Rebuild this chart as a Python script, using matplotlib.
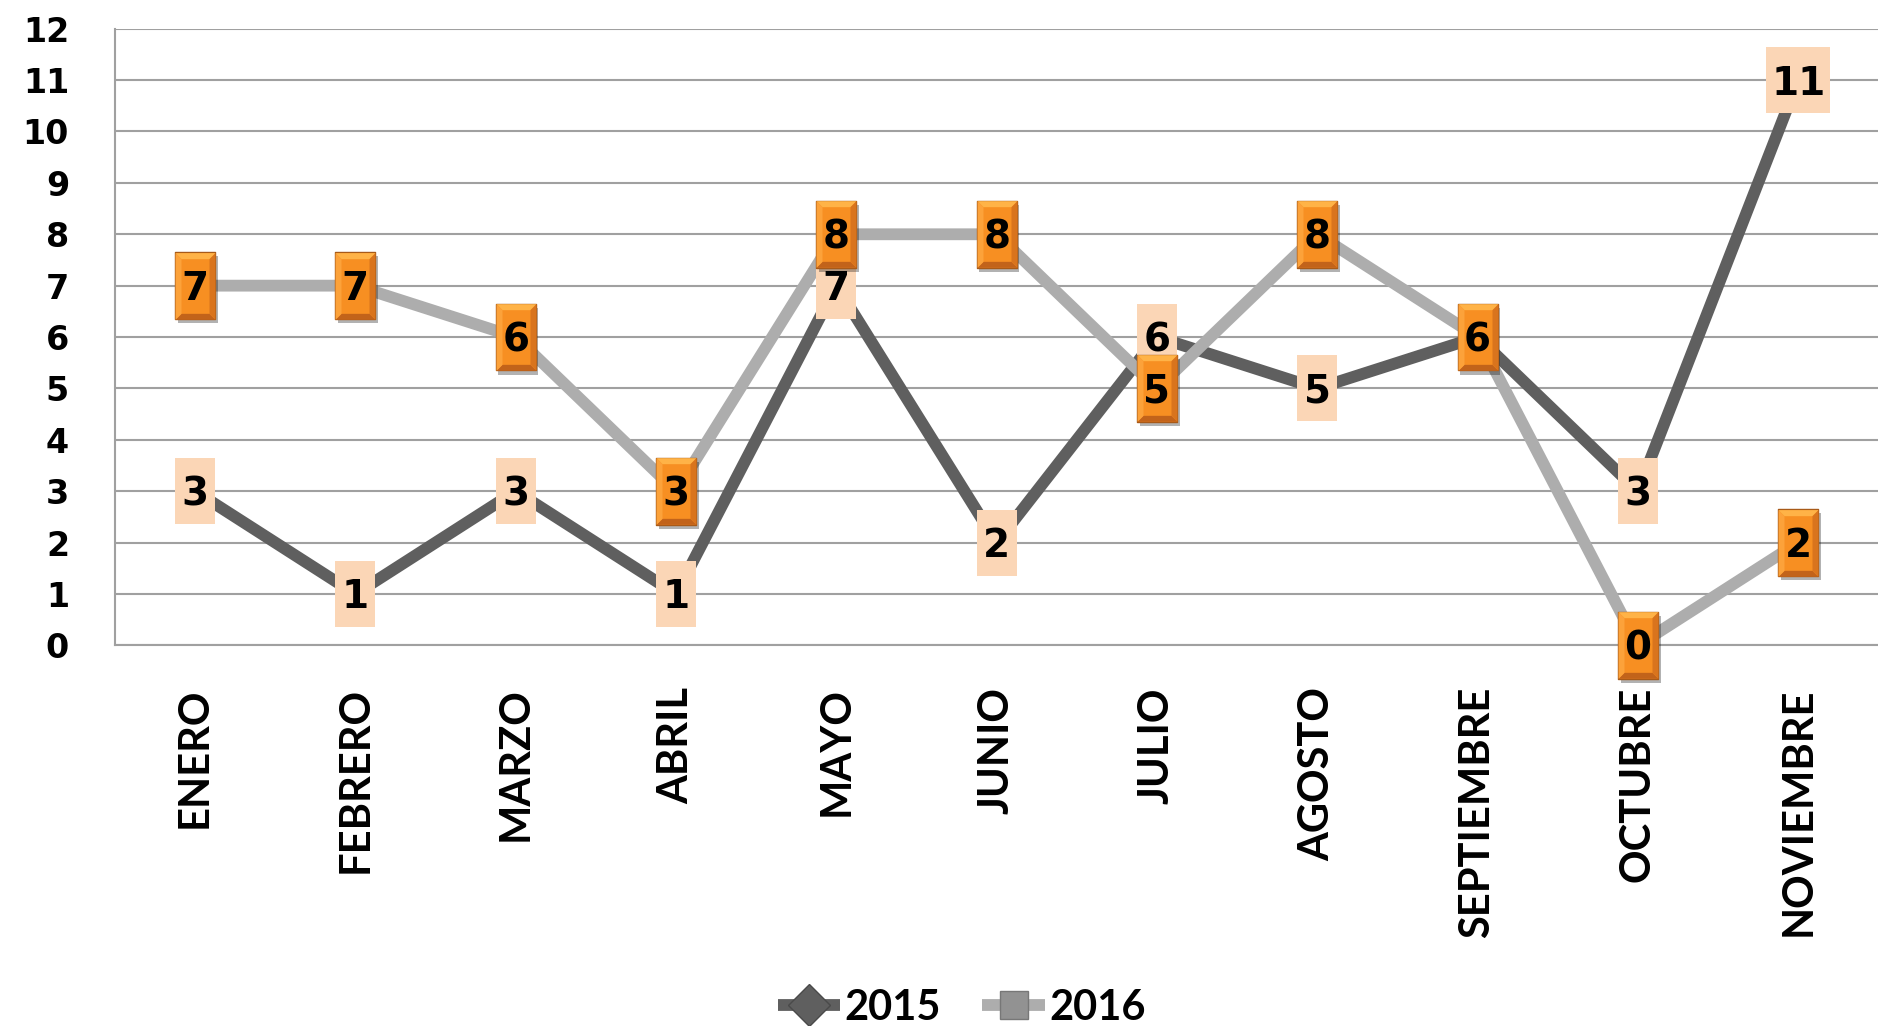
import matplotlib
matplotlib.use('Agg')
import matplotlib.pyplot as plt
import matplotlib.patheffects as pe
from matplotlib.path import Path
import numpy as np

# data
months = ['ENERO', 'FEBRERO', 'MARZO', 'ABRIL', 'MAYO', 'JUNIO', 'JULIO',
          'AGOSTO', 'SEPTIEMBRE', 'OCTUBRE', 'NOVIEMBRE']
vals_2015 = [3, 1, 3, 1, 7, 2, 6, 5, 6, 3, 11]
vals_2016 = [7, 7, 6, 3, 8, 8, 5, 8, 6, 0, 2]
y_ticks = list(range(0, 13))


def rect(hw):
    return Path([(-hw, -0.5), (hw, -0.5), (hw, 0.5), (-hw, 0.5), (-hw, -0.5)], closed=True)


def bevels(hw, b=0.09):
    # trapezoids of the bevel: top, bottom, left, right
    # every path keeps 0.5 as max abs so the markers scale alike
    top = Path([(-hw, 0.5), (hw, 0.5), (hw - b, 0.5 - b), (-hw + b, 0.5 - b), (-hw, 0.5)])
    bot = Path([(-hw, -0.5), (hw, -0.5), (hw - b, -0.5 + b), (-hw + b, -0.5 + b), (-hw, -0.5)])
    left = Path([(-hw, -0.5), (-hw, 0.5), (-hw + b, 0.5 - b), (-hw + b, -0.5 + b), (-hw, -0.5)])
    right = Path([(hw, -0.5), (hw, 0.5), (hw - b, 0.5 - b), (hw - b, -0.5 + b), (hw, -0.5)])
    return top, bot, left, right


def half_width(v):
    return 0.30 if len(str(v)) == 1 else 0.485


fig = plt.figure(figsize=(18.78, 10.26), dpi=100)
ax = fig.add_axes([0.0612, 0.371, 0.939, 0.601])

x = np.arange(len(months))
# series markers stay small so the label boxes hide them
ax.plot(x, vals_2015, color='#5f5f5f', lw=8.5, marker='D', ms=13,
        mfc='#5f5f5f', mec='#4a4a4a', label='2015', zorder=3,
        solid_capstyle='butt')
ax.plot(x, vals_2016, color='#adadad', lw=8.5, marker='s', ms=12,
        mfc='#929292', mec='#777777', label='2016', zorder=4,
        solid_capstyle='butt')

msz = 48
lab_font = dict(ha='center', va='center', fontsize=28, fontweight='bold',
                family='DejaVu Sans', color='black', annotation_clip=False,
                textcoords='offset points', xytext=(0, -2.5))

# 2015 labels: flat peach boxes
for xi, v in zip(x, vals_2015):
    ax.plot([xi], [v], ls='none', marker=rect(half_width(v)), ms=msz, mfc='#fbd6b6',
            mew=0, zorder=5, clip_on=False)
    ax.annotate(str(v), (xi, v), zorder=6, **lab_font)

# 2016 labels: orange bevelled boxes
for xi, v in zip(x, vals_2016):
    hw = half_width(v)
    ax.plot([xi], [v], ls='none', marker=rect(hw), ms=msz, mfc='#f78f22', mec='#a85a18',
            mew=1.0, zorder=7, clip_on=False,
            path_effects=[pe.SimplePatchShadow(offset=(2, -3), shadow_rgbFace='k', alpha=0.3),
                          pe.Normal()])
    top, bot, left, right = bevels(hw)
    for shp, col in [(top, '#ffb347'), (bot, '#c2631a'), (left, '#fca23a'), (right, '#d9741d')]:
        ax.plot([xi], [v], ls='none', marker=shp, ms=msz, mfc=col, mew=0,
                zorder=7.5, clip_on=False)
    ax.annotate(str(v), (xi, v), zorder=8, **lab_font)

ax.set_xlim(-0.5, len(months) - 0.5)
ax.set_ylim(0, 12)
ax.set_yticks(y_ticks)
ax.set_yticklabels([str(t) for t in y_ticks], fontsize=24, fontweight='bold',
                   family='DejaVu Sans')
ax.set_xticks(x)
ax.set_xticklabels(months, rotation=90, fontsize=30, fontweight='bold', family='Lato')
ax.tick_params(axis='y', length=0, pad=33)
ax.tick_params(axis='x', length=0, pad=30)

ax.grid(axis='y', color='#a0a0a0', lw=1.5)
ax.set_axisbelow(True)
for s in ['top', 'right']:
    ax.spines[s].set_visible(False)
for s in ['left', 'bottom']:
    ax.spines[s].set_color('#a0a0a0')
    ax.spines[s].set_linewidth(1.5)

fig.legend(loc='center', bbox_to_anchor=(0.512, 0.018), ncol=2, frameon=False,
           prop={'family': 'Lato', 'weight': 'bold', 'size': 30}, markerscale=1.65,
           handlelength=1.5, handletextpad=0.1, columnspacing=1.0)

fig.savefig('out.png', dpi=100)
